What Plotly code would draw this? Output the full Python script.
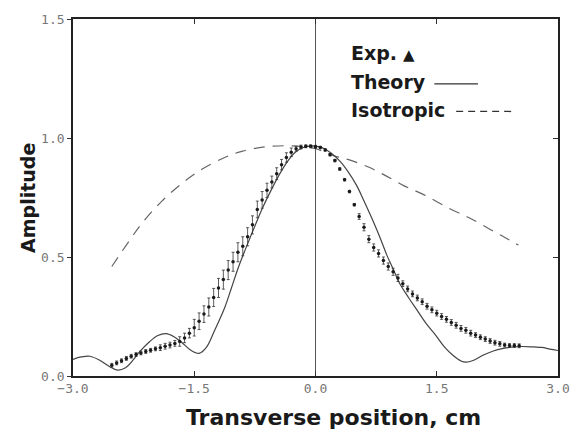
import plotly.graph_objects as go

# ---------------- data ----------------
exp_x = [-2.52, -2.46, -2.40, -2.34, -2.28, -2.22, -2.16, -2.10, -2.04, -1.98,
         -1.92, -1.86, -1.80, -1.74, -1.68, -1.62, -1.56, -1.50, -1.44, -1.38,
         -1.32, -1.26, -1.20, -1.14, -1.08, -1.02, -0.96, -0.90, -0.84, -0.78,
         -0.72, -0.66, -0.60, -0.54, -0.48, -0.42, -0.36, -0.30, -0.24, -0.18,
         -0.12, -0.06, 0.00,
         0.06, 0.12, 0.18, 0.24, 0.30, 0.36, 0.42, 0.48, 0.54, 0.60,
         0.66, 0.72, 0.78, 0.84, 0.90, 0.96, 1.02, 1.08, 1.14, 1.20,
         1.26, 1.32, 1.38, 1.44, 1.50, 1.56, 1.62, 1.68, 1.74, 1.80,
         1.86, 1.92, 1.98, 2.04, 2.10, 2.16, 2.22, 2.28, 2.34, 2.40,
         2.46, 2.52]
exp_y = [0.045, 0.055, 0.064, 0.074, 0.083, 0.090, 0.097, 0.103, 0.108, 0.114,
         0.119, 0.125, 0.130, 0.137, 0.145, 0.160, 0.180, 0.203, 0.230, 0.260,
         0.290, 0.330, 0.370, 0.405, 0.445, 0.480, 0.520, 0.545, 0.585, 0.635,
         0.700, 0.740, 0.780, 0.815, 0.850, 0.888, 0.918, 0.940, 0.955, 0.962,
         0.965, 0.965, 0.963,
         0.960, 0.950, 0.930, 0.905, 0.870, 0.825, 0.775, 0.720, 0.670, 0.625,
         0.575, 0.540, 0.515, 0.485, 0.460, 0.438, 0.412, 0.388, 0.366, 0.345,
         0.328, 0.312, 0.293, 0.278, 0.264, 0.250, 0.238, 0.225, 0.213, 0.200,
         0.192, 0.180, 0.172, 0.163, 0.155, 0.147, 0.140, 0.135, 0.130, 0.128,
         0.128, 0.127]
exp_err = [0.008, 0.008, 0.008, 0.008, 0.008, 0.008, 0.008, 0.008, 0.008, 0.008,
           0.012, 0.012, 0.012, 0.012, 0.020, 0.020, 0.020, 0.035, 0.035, 0.035,
           0.038, 0.038, 0.040, 0.040, 0.040, 0.040, 0.040, 0.040, 0.038, 0.038,
           0.035, 0.035, 0.030, 0.025, 0.025, 0.022, 0.020, 0.018, 0.010, 0.008,
           0.006, 0.006, 0.006,
           0.005, 0.005, 0.005, 0.005, 0.005, 0.005, 0.005, 0.005, 0.012, 0.015,
           0.015, 0.015, 0.015, 0.015, 0.015, 0.015, 0.015, 0.012, 0.012, 0.012,
           0.012, 0.012, 0.012, 0.012, 0.012, 0.012, 0.012, 0.012, 0.012, 0.012,
           0.012, 0.012, 0.010, 0.010, 0.010, 0.010, 0.010, 0.010, 0.008, 0.008,
           0.008, 0.008]

theory_x = [-3.00, -2.90, -2.79, -2.67, -2.55, -2.45, -2.35, -2.25, -2.18, -2.05,
            -1.95, -1.85, -1.75, -1.65, -1.55, -1.44, -1.35, -1.25, -1.12, -1.04,
            -0.95, -0.87, -0.75, -0.65, -0.55, -0.45, -0.35, -0.25, -0.15, -0.05,
            0.05, 0.11, 0.20, 0.31, 0.40, 0.51, 0.60, 0.72, 0.80, 0.88,
            0.96, 1.04, 1.15, 1.25, 1.37, 1.49, 1.60, 1.70, 1.80, 1.86,
            1.95, 2.07, 2.20, 2.31, 2.45, 2.56, 2.70, 2.80, 2.90, 3.00]
theory_y = [0.070, 0.080, 0.083, 0.066, 0.040, 0.025, 0.035, 0.070, 0.100, 0.145,
            0.170, 0.178, 0.165, 0.140, 0.110, 0.095, 0.120, 0.190, 0.290, 0.370,
            0.460, 0.530, 0.630, 0.710, 0.780, 0.845, 0.900, 0.940, 0.960, 0.967,
            0.963, 0.955, 0.935, 0.900, 0.860, 0.800, 0.735, 0.645, 0.580, 0.510,
            0.450, 0.390, 0.330, 0.280, 0.220, 0.170, 0.120, 0.087, 0.063, 0.058,
            0.065, 0.087, 0.105, 0.115, 0.122, 0.124, 0.122, 0.120, 0.113, 0.107]

iso_x = [-2.52, -2.30, -2.14, -1.90, -1.65, -1.40, -1.11, -0.90, -0.62, -0.30,
         0.00, 0.23, 0.40, 0.64, 0.85, 1.09, 1.35, 1.65, 1.90, 2.14, 2.30, 2.51]
iso_y = [0.460, 0.570, 0.645, 0.735, 0.810, 0.870, 0.920, 0.945, 0.963, 0.967,
         0.955, 0.925, 0.910, 0.880, 0.845, 0.800, 0.760, 0.705, 0.665, 0.620,
         0.590, 0.550]

x_ticks = [-3.0, -1.5, 0.0, 1.5, 3.0]
y_ticks = [0.0, 0.5, 1.0, 1.5]

# ---------------- figure ----------------
fig = go.Figure()

fig.add_trace(go.Scatter(
    x=iso_x, y=iso_y, mode="lines", line_shape="spline",
    line=dict(color="#666666", width=1.2, dash="11px,8px"),
    showlegend=False, hoverinfo="skip"))

fig.add_trace(go.Scatter(
    x=theory_x, y=theory_y, mode="lines", line_shape="spline",
    line=dict(color="#444444", width=1.2),
    showlegend=False, hoverinfo="skip"))

fig.add_trace(go.Scatter(
    x=exp_x, y=exp_y, mode="markers",
    marker=dict(symbol="circle", size=3.5, color="#1a1a1a"),
    error_y=dict(type="data", array=exp_err, visible=True,
                 color="#333333", thickness=0.8, width=1.5),
    showlegend=False, hoverinfo="skip"))

# invisible trace anchoring the right-hand (inside tick) axis
fig.add_trace(go.Scatter(x=[0], y=[0], yaxis="y2", mode="markers",
                         marker=dict(opacity=0), showlegend=False,
                         hoverinfo="skip"))

tick_font = dict(family="DejaVu Sans Mono", size=13, color="#777777")

fig.update_layout(
    width=582, height=433,
    margin=dict(l=73, r=19, t=13, b=57),
    paper_bgcolor="white", plot_bgcolor="white",
    xaxis=dict(range=[-3, 3], tickvals=x_ticks, tickformat=".1f",
               ticks="inside", ticklen=5, tickwidth=1, tickcolor="#333",
               showline=True, linecolor="#222", linewidth=1.6, mirror="ticks",
               showgrid=False, zeroline=True, zerolinecolor="#555",
               zerolinewidth=1, tickfont=tick_font),
    yaxis=dict(range=[0, 1.5], tickvals=y_ticks, tickformat=".1f",
               ticks="outside", ticklen=4, tickwidth=1, tickcolor="#333",
               showline=True, linecolor="#222", linewidth=1.6, mirror=True,
               showgrid=False, zeroline=False, tickfont=tick_font),
    yaxis2=dict(range=[0, 1.5], overlaying="y", side="right",
                tickvals=[0.5, 1.0], ticks="inside", ticklen=5,
                tickcolor="#333", showticklabels=False, showline=False,
                showgrid=False, zeroline=False),
    showlegend=False,
)

fig.add_annotation(text="<b>Transverse position, cm</b>", xref="paper", yref="paper",
                   x=0.538, y=-0.115, xanchor="center", yanchor="middle",
                   showarrow=False,
                   font=dict(family="DejaVu Sans", size=22, color="#1a1a1a"))
fig.add_annotation(text="<b>Amplitude</b>", xref="paper", yref="paper",
                   x=-0.094, y=0.5, xanchor="center", yanchor="middle",
                   textangle=-90, showarrow=False,
                   font=dict(family="DejaVu Sans", size=19, color="#1a1a1a"))

# hand-made legend
leg_font = dict(family="DejaVu Sans", size=19, color="#1a1a1a")
fig.add_annotation(text="<b>Exp.</b> <span style='font-size:15px'>▲</span>",
                   xref="paper", yref="paper", x=0.569, y=0.904,
                   xanchor="left", yanchor="middle", showarrow=False, font=leg_font)
fig.add_annotation(text="<b>Theory</b>", xref="paper", yref="paper",
                   x=0.569, y=0.824, xanchor="left", yanchor="middle",
                   showarrow=False, font=leg_font)
fig.add_annotation(text="<b>Isotropic</b>", xref="paper", yref="paper",
                   x=0.569, y=0.744, xanchor="left", yanchor="middle",
                   showarrow=False, font=leg_font)
fig.add_shape(type="line", xref="paper", yref="paper",
              x0=0.745, x1=0.835, y0=0.818, y1=0.818,
              line=dict(color="#333", width=1.3))
fig.add_shape(type="line", xref="paper", yref="paper",
              x0=0.790, x1=0.906, y0=0.741, y1=0.741,
              line=dict(color="#333", width=1.3, dash="7px,5px"))

fig.write_html("out.html")
